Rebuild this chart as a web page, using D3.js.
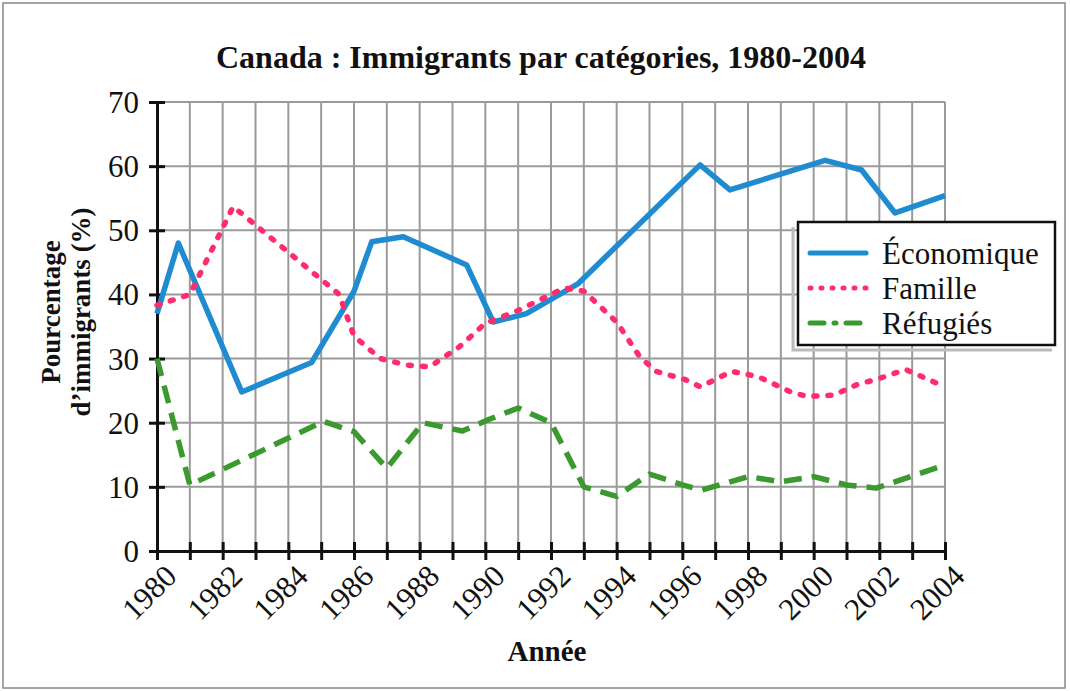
<!DOCTYPE html>
<html>
  <head>
    <title>Canada : Immigrants par catégories</title>
    <script src="https://d3js.org/d3.v7.min.js"></script>
    <style type="text/css">
body {
  margin: 0;
  background: #fff;
}
svg text {
  font-family: "Liberation Serif", "Times New Roman", "DejaVu Serif", serif;
  fill: #111;
}
.grid line {
  stroke: #9a9a9a;
  stroke-width: 2px;
}
.axis path, .axis line {
  stroke: #111;
  stroke-width: 3px;
}
    </style>
  </head>
  <body>
    <script type="text/javascript">

// --- data ---
var econYears  = [1980, 1980.65, 1982.58, 1984.71, 1986.0, 1986.54, 1987.5, 1989.43, 1990.24, 1991.25, 1992.83, 1996.54, 1997.45, 2000.35, 2001.46, 2002.48, 2004];
var econValues = [37, 48, 24.8, 29.4, 40.5, 48.2, 49, 44.6, 35.7, 37, 41.7, 60.2, 56.3, 60.9, 59.4, 52.7, 55.4];

var famYears  = [1980, 1981, 1982.32, 1985.55, 1986.0, 1986.8, 1987.6, 1988.3, 1989.2, 1990.0, 1991.0, 1992.4, 1993.0, 1994.0, 1994.7, 1995.2, 1996.1, 1996.55, 1997.5, 1998.3, 1999.3, 1999.8, 2000.6, 2001.3, 2002.0, 2002.8, 2004];
var famValues = [38.3, 40, 53.7, 40, 33.5, 30, 29, 28.7, 31.8, 35.5, 37.5, 41, 40.5, 35.7, 30.3, 28, 26.7, 25.6, 28, 27.2, 24.8, 24.1, 24.3, 25.9, 26.9, 28.3, 25.6];

var refYears  = [1980, 1981, 1985.07, 1986, 1987, 1988.1, 1989.3, 1990.1, 1991, 1992, 1993, 1994, 1995, 1996, 1996.6, 1998, 1999, 2000, 2001, 2001.9, 2004];
var refValues = [30, 10.3, 20.2, 18.6, 12.9, 20, 18.7, 20.5, 22.3, 20, 10, 8.5, 12, 10.3, 9.5, 11.6, 10.8, 11.6, 10.3, 9.8, 13.4];

var seriesNames = ["Économique", "Famille", "Réfugiés"];
var yTicks = [0, 10, 20, 30, 40, 50, 60, 70];

var width = 1070,
    height = 691,
    plotL = 157, plotR = 945, plotT = 102, plotB = 551;

var serif = '"Liberation Serif", "Times New Roman", "DejaVu Serif", serif';
var colors = ["#1f8bd0", "#ff2d6c", "#3a9a2e"];
var dashes = [null, "3 11", "18 10"];

var x = d3.scaleLinear().domain([1980, 2004]).range([plotL, plotR]);
var y = d3.scaleLinear().domain([0, 70]).range([plotB, plotT]);

var svg = d3.select("body").append("svg")
    .attr("width", width)
    .attr("height", height)
    .style("font-family", serif);

// picture frame
svg.append("rect")
    .attr("x", 3).attr("y", 3)
    .attr("width", width - 8).attr("height", height - 6)
    .attr("fill", "none")
    .attr("stroke", "#888")
    .attr("stroke-width", 1.5);

// title
svg.append("text")
    .attr("x", 541).attr("y", 68)
    .attr("text-anchor", "middle")
    .style("font-family", serif)
    .attr("font-weight", "bold")
    .attr("font-size", 32)
    .text("Canada : Immigrants par catégories, 1980-2004");

// grid
var grid = svg.append("g").attr("class", "grid");
grid.selectAll("line.v")
    .data(d3.range(1981, 2005))
    .enter().append("line")
    .attr("class", "v")
    .attr("x1", function(d) { return x(d); })
    .attr("x2", function(d) { return x(d); })
    .attr("y1", y(70)).attr("y2", y(0));
grid.selectAll("line.h")
    .data(yTicks.slice(1))
    .enter().append("line")
    .attr("class", "h")
    .attr("x1", x(1980)).attr("x2", x(2004))
    .attr("y1", function(d) { return y(d); })
    .attr("y2", function(d) { return y(d); });

// axes
var yAxis = svg.append("g")
    .attr("class", "axis")
    .attr("transform", "translate(" + plotL + ",0)")
    .call(d3.axisLeft(y).tickValues(yTicks).tickSizeOuter(0).tickSize(8).tickPadding(10));
yAxis.attr("font-family", null);
yAxis.selectAll(".tick line").attr("x1", 8).attr("x2", -8);
yAxis.selectAll(".tick text")
    .style("font-family", serif)
    .attr("font-size", 31)
    .attr("fill", "#111")
    .attr("dy", "0.34em");

var xAxis = svg.append("g")
    .attr("class", "axis")
    .attr("transform", "translate(0," + plotB + ")")
    .call(d3.axisBottom(x).tickValues(d3.range(1980, 2005)).tickSizeOuter(0).tickSize(9)
      .tickFormat(function(d) { return d % 2 === 0 ? d : ""; }));
xAxis.attr("font-family", null);
xAxis.selectAll(".tick line").attr("y1", -9).attr("y2", 9);
xAxis.selectAll(".tick text")
    .style("font-family", serif)
    .attr("font-size", 31)
    .attr("fill", "#111")
    .attr("text-anchor", "end")
    .attr("x", 0).attr("y", 0).attr("dy", 0)
    .attr("transform", "translate(21,27) rotate(-45)");

// axis titles
svg.append("text")
    .attr("x", 547).attr("y", 661)
    .attr("text-anchor", "middle")
    .style("font-family", serif)
    .attr("font-weight", "bold")
    .attr("font-size", 29)
    .text("Année");

var yTitle = svg.append("text")
    .attr("transform", "translate(0,312) rotate(-90)")
    .attr("text-anchor", "middle")
    .style("font-family", serif)
    .attr("font-weight", "bold")
    .attr("font-size", 27);
yTitle.append("tspan").attr("x", 0).attr("y", 60).text("Pourcentage");
yTitle.append("tspan").attr("x", 0).attr("y", 90).text("d\u2019immigrants (%)");

// lines
var line = d3.line()
    .x(function(d) { return x(d[0]); })
    .y(function(d) { return y(d[1]); });

var series = [
  d3.zip(econYears, econValues),
  d3.zip(famYears, famValues),
  d3.zip(refYears, refValues)
];

svg.append("g").selectAll("path.series")
    .data(series)
    .enter().append("path")
    .attr("class", "series")
    .attr("d", line)
    .attr("fill", "none")
    .attr("stroke", function(d, i) { return colors[i]; })
    .attr("stroke-width", 5.5)
    .attr("stroke-linecap", function(d, i) { return i === 1 ? "round" : "butt"; })
    .attr("stroke-linejoin", "round")
    .attr("stroke-dasharray", function(d, i) { return dashes[i]; });

// legend
var lg = svg.append("g").attr("transform", "translate(798,222)");
lg.append("path")
    .attr("d", "M-5,5 V128 H254")
    .attr("fill", "none")
    .attr("stroke", "#bbb")
    .attr("stroke-width", 3);
lg.append("rect")
    .attr("width", 257).attr("height", 123)
    .attr("fill", "#fff")
    .attr("stroke", "#111")
    .attr("stroke-width", 2.5);
var item = lg.selectAll("g.item")
    .data(seriesNames)
    .enter().append("g")
    .attr("class", "item")
    .attr("transform", function(d, i) { return "translate(0," + (31 + i * 35) + ")"; });
item.append("line")
    .attr("x1", 12).attr("x2", 68)
    .attr("stroke", function(d, i) { return colors[i]; })
    .attr("stroke-width", 5)
    .attr("stroke-linecap", "round")
    .attr("stroke-dasharray", function(d, i) { return i === 0 ? null : (i === 1 ? "1 10" : "14 10 2 10"); });
item.append("text")
    .attr("x", 84).attr("dy", "0.35em")
    .style("font-family", serif)
    .attr("font-size", 31)
    .text(function(d) { return d; });

    </script>
  </body>
</html>
